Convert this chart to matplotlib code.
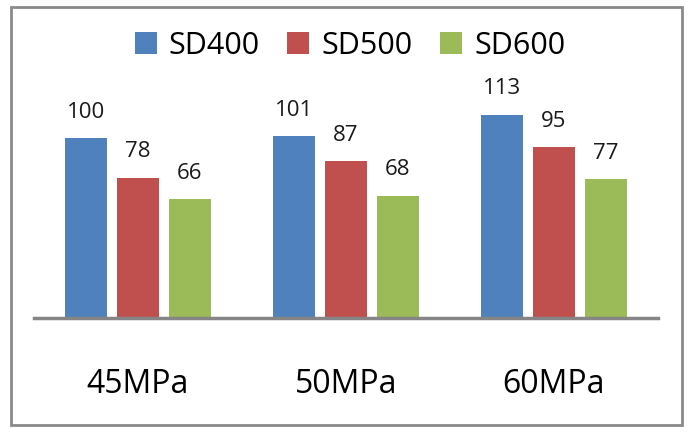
import numpy as np
import matplotlib
matplotlib.use("Agg")
import matplotlib.pyplot as plt
from matplotlib.patches import Rectangle, Patch

plt.rcParams['font.family'] = ['Open Sans', 'DejaVu Sans']

# data
categories = ['45MPa', '50MPa', '60MPa']
series = ['SD400', 'SD500', 'SD600']
sd400 = [100, 101, 113]
sd500 = [78, 87, 95]
sd600 = [66, 68, 77]
colors = ['#4F81BD', '#C0504D', '#9BBB59']

W, H = 692, 437
fig = plt.figure(figsize=(W / 100, H / 100), dpi=100)

# axes placed in pixel terms: line from x=34 to 658, baseline y=318
left, right = 34, 658
base, top = 318, 80
ax = fig.add_axes([left / W, (H - base) / H, (right - left) / W, (base - top) / H])

x = np.arange(len(categories))
bw = 0.2
step = 0.25
for i, (vals, c) in enumerate(zip([sd400, sd500, sd600], colors)):
    pos = x + (i - 1) * step
    ax.bar(pos, vals, width=bw, color=c, zorder=2)
    for p, v in zip(pos, vals):
        ax.annotate(str(v), (p, v), xytext=(0, 11), textcoords='offset points',
                    ha='center', va='bottom', fontsize=16, color='#1a1a1a')

ax.set_xlim(-0.5, 2.5)
ax.set_ylim(0, (base - top) / 1.8)
for s in ['top', 'right', 'left']:
    ax.spines[s].set_visible(False)
ax.spines['bottom'].set_color('#858585')
ax.spines['bottom'].set_linewidth(2.5)
ax.set_yticks([])
ax.set_xticks(x)
ax.set_xticklabels(categories, fontsize=23)
ax.tick_params(axis='x', length=0, pad=36)

handles = [Patch(facecolor=c, edgecolor='none') for c in colors]
fig.legend(handles, series, loc='center', bbox_to_anchor=(0.506, (H - 46) / H),
           ncol=3, frameon=False, fontsize=22, handlelength=0.72, handleheight=0.72,
           handletextpad=0.4, columnspacing=0.9)

# outer gray frame
fig.patches.append(Rectangle((11 / W, (H - 425) / H), (682 - 11) / W, (425 - 7) / H,
                             transform=fig.transFigure, fill=False,
                             edgecolor='#8a8a8a', linewidth=2))

fig.savefig('out.png', dpi=100)
